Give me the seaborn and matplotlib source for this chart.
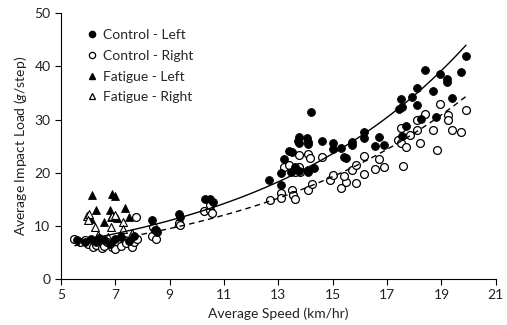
import numpy as np
import pandas as pd
import matplotlib
matplotlib.use("Agg")
import matplotlib.pyplot as plt
import seaborn as sns
from matplotlib.lines import Line2D

# ---------------- data ----------------
cl_speed = [5.6, 5.9, 6.1, 6.3, 6.4, 6.6, 6.8, 7.0, 7.2, 7.5, 7.7, 8.35, 8.45, 8.5, 8.55,
            9.33, 9.4, 10.3, 10.5, 10.6,
            12.65, 13.08, 13.1, 13.2, 13.4, 13.5, 13.6, 13.45, 13.77, 14.08, 14.3, 14.1,
            13.75, 13.73, 13.77, 14.07, 14.08, 14.1, 14.2, 14.6, 15.0, 15.0, 15.4, 15.5,
            15.3, 15.7, 15.7, 16.15, 16.15, 16.55, 16.7, 16.9, 17.55, 17.7, 17.45, 17.55,
            17.5, 17.9, 18.1, 18.1, 18.25, 18.4, 18.7, 18.8, 18.95, 19.2, 19.2, 19.4, 19.7, 19.9]
cl_load = [7.4, 7.0, 7.6, 6.9, 7.8, 7.3, 6.6, 7.5, 7.9, 7.2, 8.0, 11.1, 9.3, 9.2, 8.9,
           12.3, 11.7, 15.0, 15.1, 14.5,
           18.7, 17.7, 19.9, 22.6, 24.1, 23.9, 21.1, 20.2, 20.4, 20.5, 20.8, 20.2,
           26.7, 26.0, 25.5, 26.6, 25.8, 25.3, 31.5, 26.0, 25.6, 24.5, 23.0, 22.7,
           24.6, 25.8, 25.2, 27.6, 26.6, 25.1, 26.7, 25.2, 26.9, 28.7, 32.0, 32.3,
           33.8, 34.2, 32.7, 36.0, 30.1, 39.3, 35.3, 30.5, 38.5, 37.7, 37.0, 34.0, 38.9, 42.0]

cr_speed = [5.5, 5.7, 5.9, 6.0, 6.2, 6.3, 6.5, 6.6, 6.7, 6.9, 7.0, 7.2, 7.4, 7.6, 7.7, 7.8,
            7.75, 8.35, 8.5, 8.4, 9.33, 9.4, 10.25, 10.5, 10.55, 10.5,
            12.7, 13.1, 13.1, 13.5, 13.55, 13.6, 14.1, 14.25, 14.9, 15.0, 15.3, 15.5, 15.4,
            15.85, 15.7, 15.85, 16.15, 16.15, 16.55, 16.7, 16.9, 17.6, 13.2, 13.4, 13.75,
            13.8, 13.6, 13.75, 14.1, 14.15, 14.6, 17.4, 17.5, 17.7, 17.85, 18.2, 17.5, 18.1,
            18.7, 18.85, 18.1, 18.4, 18.95, 19.25, 19.25, 19.4, 19.7, 19.9]
cr_load = [7.6, 7.0, 7.3, 6.6, 6.0, 6.4, 5.8, 6.2, 6.9, 6.0, 5.7, 6.3, 6.8, 6.1, 7.0, 7.6,
           11.7, 8.0, 7.6, 9.8, 10.5, 10.2, 12.7, 13.0, 12.5, 13.9,
           14.8, 16.2, 15.2, 16.7, 15.8, 15.0, 16.7, 17.9, 18.6, 19.5, 17.2, 18.2, 19.4,
           18.1, 20.5, 21.4, 19.7, 23.1, 20.6, 22.5, 21.1, 21.2, 21.1, 21.4, 21.1,
           20.2, 20.2, 23.3, 23.6, 22.7, 23.0, 26.1, 25.6, 24.9, 27.1, 25.6, 28.4, 28.1,
           28.1, 24.2, 29.9, 31.0, 33.0, 30.9, 30.0, 28.1, 27.6, 31.8]

fl_speed = [6.15, 6.9, 7.0, 6.3, 6.8, 7.35, 7.5, 6.6, 6.85, 6.1, 7.05, 6.45, 7.15]
fl_load = [15.8, 16.0, 15.7, 13.0, 12.9, 13.4, 11.7, 10.7, 11.7, 11.3, 11.4, 7.8, 8.0]

fr_speed = [5.95, 6.05, 6.25, 6.9, 6.85, 7.3, 7.3, 6.0, 7.0, 9.3, 6.35, 6.75, 7.6]
fr_load = [11.9, 12.3, 9.8, 11.9, 9.8, 10.8, 9.5, 11.1, 12.1, 10.6, 8.2, 7.9, 8.6]

x_ticks = [5, 7, 9, 11, 13, 15, 17, 19, 21]
y_ticks = [0, 10, 20, 30, 40, 50]
labels = ["Control - Left", "Control - Right", "Fatigue - Left", "Fatigue - Right"]

# ---------------- style ----------------
sns.set_style("ticks")
plt.rcParams["font.family"] = ["Lato", "DejaVu Sans"]
plt.rcParams["mathtext.fontset"] = "custom"
plt.rcParams["mathtext.it"] = "Lato:italic"
plt.rcParams["mathtext.rm"] = "Lato"

fig = plt.figure(figsize=(5.07, 3.25), dpi=100)
ax = fig.add_axes([0.120, 0.1415, 0.858, 0.818])

cl = pd.DataFrame({"speed": cl_speed, "load": cl_load})
cr = pd.DataFrame({"speed": cr_speed, "load": cr_load})
fl = pd.DataFrame({"speed": fl_speed, "load": fl_load})
fr = pd.DataFrame({"speed": fr_speed, "load": fr_load})

ms = 32
sns.scatterplot(data=fl, x="speed", y="load", marker="^", color="black", s=ms,
                edgecolor="black", linewidth=0.6, ax=ax, zorder=3)
sns.scatterplot(data=fr, x="speed", y="load", marker="^", facecolor="white", s=ms,
                edgecolor="black", linewidth=0.8, ax=ax, zorder=3)
sns.scatterplot(data=cr, x="speed", y="load", marker="o", facecolor="white", s=ms,
                edgecolor="black", linewidth=0.9, ax=ax, zorder=3)
sns.scatterplot(data=cl, x="speed", y="load", marker="o", color="black", s=ms,
                edgecolor="black", linewidth=0.6, ax=ax, zorder=3)


def exp_trend(df):
    # exponential trend line (least squares on log of the load), over the data range
    k, lna = np.polyfit(df["speed"], np.log(df["load"]), 1)
    xs = np.linspace(df["speed"].min(), df["speed"].max(), 200)
    return pd.DataFrame({"speed": xs, "load": np.exp(lna + k * xs)})


sns.lineplot(data=exp_trend(cl), x="speed", y="load", color="black", lw=1.0,
             ax=ax, zorder=4)
sns.lineplot(data=exp_trend(cr), x="speed", y="load", color="black", lw=1.0,
             ls=(0, (4, 3)), ax=ax, zorder=4)

ax.set_xlim(5, 21)
ax.set_ylim(0, 50)
ax.set_xticks(x_ticks)
ax.set_yticks(y_ticks)
ax.tick_params(labelsize=10, length=4, width=0.8, color="black", labelcolor="#222222")
for s in ["left", "bottom"]:
    ax.spines[s].set_linewidth(0.8)
    ax.spines[s].set_color("black")
sns.despine(ax=ax)
ax.set_xlabel("Average Speed (km/hr)", fontsize=10, color="#222222")
ax.set_ylabel(r"Average Impact Load ($\mathit{g}$/step)", fontsize=10, color="#222222")

handles = [
    Line2D([], [], ls="none", marker="o", mfc="black", mec="black", ms=4.5),
    Line2D([], [], ls="none", marker="o", mfc="white", mec="black", ms=4.5, mew=0.9),
    Line2D([], [], ls="none", marker="^", mfc="black", mec="black", ms=4.5),
    Line2D([], [], ls="none", marker="^", mfc="white", mec="black", ms=4.5, mew=0.9),
]
ax.legend(handles, labels, loc="upper left", bbox_to_anchor=(0.045, 0.96), frameon=False,
          fontsize=10, handlelength=0.8, handletextpad=0.4, labelspacing=0.62,
          borderaxespad=0)

fig.savefig("out.png", dpi=100)
